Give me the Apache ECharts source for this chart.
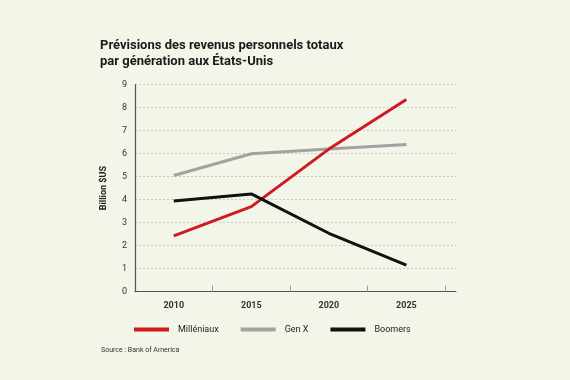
<!DOCTYPE html>
<html><head><meta charset="utf-8">
<script src="https://cdn.jsdelivr.net/npm/echarts@6/dist/echarts.min.js"></script>
<style>html,body{margin:0;padding:0;background:#f4f5e9;}#c{width:570px;height:380px;}</style>
</head><body><div id="c"></div>
<script>
const years = [2010, 2015, 2020, 2025];
const millenniaux = [2.43, 3.7, 6.2, 8.36];
const genX = [5.05, 6.0, 6.2, 6.4];
const boomers = [3.94, 4.25, 2.54, 1.16];
const yTicks = [0,1,2,3,4,5,6,7,8,9];
const names = ['Milléniaux', 'Gen X', 'Boomers'];
const colors = ['#cc1b22', '#a2a2a2', '#111111'];
const font = 'Roboto, "Noto Sans", sans-serif';

const pair = arr => years.map((y, i) => [y, arr[i]]);
const chart = echarts.init(document.getElementById('c'), null, {renderer: 'canvas'});
chart.setOption({
  backgroundColor: '#f4f5e9',
  animation: false,
  title: {
    text: 'Prévisions des revenus personnels totaux\npar génération aux États-Unis',
    left: 100, top: 38, padding: 0,
    textStyle: {fontFamily: font, fontSize: 13, fontWeight: 'bold', color: '#1a1a1a', lineHeight: 16}
  },
  graphic: [{
    type: 'text', left: 101, top: 347,
    style: {text: 'Source : Bank of America', font: '7px ' + font, fill: '#333'}
  }],
  legend: {
    data: names, left: 134, top: 325, padding: 0, icon: 'rect', itemWidth: 35, itemHeight: 4, itemGap: 22,
    textStyle: {fontFamily: font, fontSize: 9, color: '#222', padding: [0, 0, 0, 4]}
  },
  grid: {left: 135, right: 114, top: 84.7, bottom: 88.3},
  xAxis: {
    type: 'value', min: 2007.5, max: 2028.2,
    axisLine: {show: true, lineStyle: {color: '#555', width: 1.2}},
    axisTick: {show: true, inside: true, length: 6, customValues: [2012.5, 2017.5, 2022.5, 2027.5], lineStyle: {color: '#999'}},
    axisLabel: {customValues: years, formatter: v => String(v), fontFamily: font, fontSize: 9, fontWeight: 'bold', color: '#333', margin: 10},
    splitLine: {show: false}
  },
  yAxis: {
    type: 'value', min: 0, max: 9, interval: 1,
    name: 'Billion $US', nameLocation: 'middle', nameGap: 27, nameRotate: 90,
    nameTextStyle: {fontFamily: font, fontSize: 9, fontWeight: 'bold', color: '#222'},
    axisLine: {show: true, lineStyle: {color: '#555', width: 1.2}},
    axisTick: {show: false},
    axisLabel: {fontFamily: font, fontSize: 9, color: '#333', margin: 8, formatter: v => yTicks.includes(v) ? String(v) : ''},
    splitLine: {show: true, lineStyle: {color: '#c2c2b8', type: [2, 2], width: 0.8}}
  },
  series: [
    {name: names[0], type: 'line', data: pair(millenniaux), symbol: 'none', lineStyle: {width: 3, color: colors[0]}, itemStyle: {color: colors[0]}, z: 3},
    {name: names[1], type: 'line', data: pair(genX), symbol: 'none', lineStyle: {width: 3, color: colors[1]}, itemStyle: {color: colors[1]}, z: 2},
    {name: names[2], type: 'line', data: pair(boomers), symbol: 'none', lineStyle: {width: 3, color: colors[2]}, itemStyle: {color: colors[2]}, z: 4}
  ]
});
</script></body></html>
